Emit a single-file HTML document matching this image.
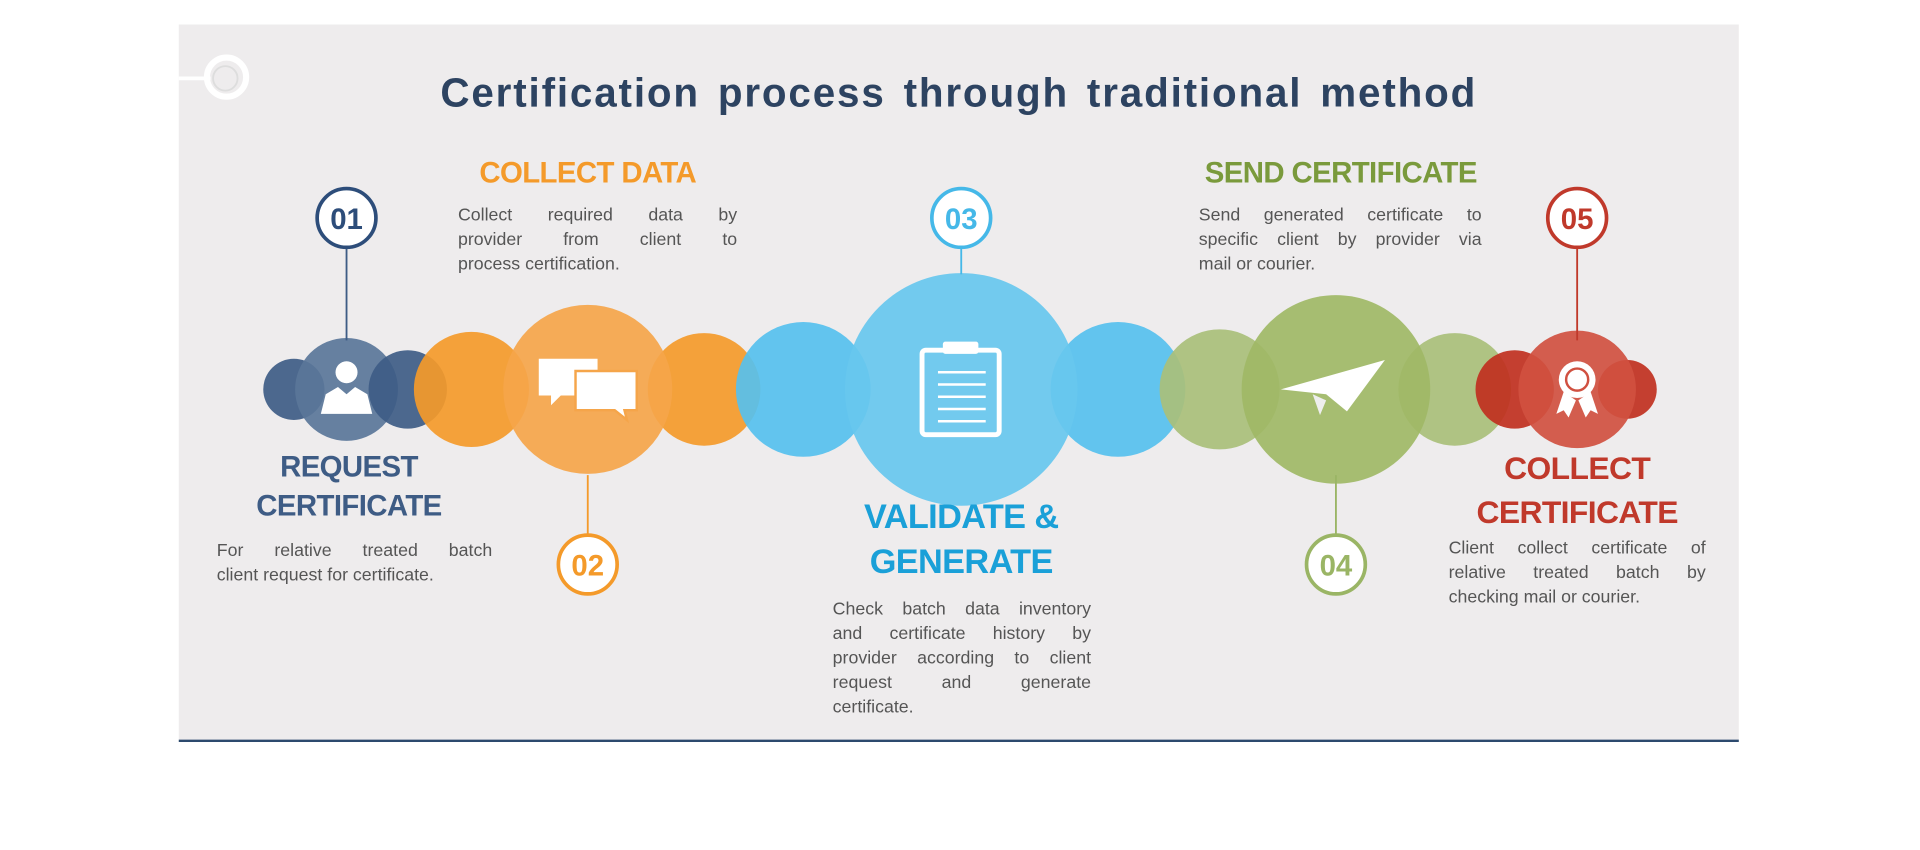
<!DOCTYPE html>
<html><head><meta charset="utf-8"><style>
html,body{margin:0;padding:0;background:#fff;width:1920px;height:850px;overflow:hidden}
#w{position:absolute;left:0;top:0;width:1568px;height:694px;transform:scale(1.2245);transform-origin:0 0;font-family:"Liberation Sans",sans-serif}
.t{position:absolute;font-weight:bold;white-space:nowrap;text-align:center;letter-spacing:-0.5px}
.d{position:absolute;font-size:14.5px;line-height:20px;color:#555}
.d div{text-align:justify;text-align-last:justify;white-space:nowrap}
.d div.l{text-align-last:left}
</style></head><body><div id="w">
<svg width="1568" height="694" style="position:absolute;left:0;top:0">
<rect x="146" y="20" width="1274" height="586" fill="#eeeced"/>
<line x1="146" y1="605" x2="1420" y2="605" stroke="#2c4a6e" stroke-width="2"/>
<line x1="146" y1="64" x2="172" y2="64" stroke="#fff" stroke-width="3"/>
<circle cx="185" cy="63" r="16" fill="none" stroke="#fff" stroke-width="5"/>
<circle cx="184" cy="64" r="10" fill="none" stroke="#ddd" stroke-width="1.5"/>
<g fill-opacity="0.92">
<circle cx="240" cy="318" r="25" fill="#3e5c85"/>
<circle cx="283" cy="318" r="42" fill="#5a7699"/>
<circle cx="333" cy="318" r="32" fill="#3e5c85"/>
<circle cx="385" cy="318" r="47" fill="#f49a2a"/>
<circle cx="575" cy="318" r="46" fill="#f49a2a"/>
<circle cx="480" cy="318" r="69" fill="#f5a54a"/>
<circle cx="656" cy="318" r="55" fill="#56c0ee"/>
<circle cx="913" cy="318" r="55" fill="#56c0ee"/>
<circle cx="785" cy="318" r="95" fill="#67c7ee"/>
<circle cx="996" cy="318" r="49" fill="#a9bf7a"/>
<circle cx="1188" cy="318" r="46" fill="#a9bf7a"/>
<circle cx="1091" cy="318" r="77" fill="#a0b866"/>
<circle cx="1237" cy="318" r="32" fill="#c0301f"/>
<circle cx="1329" cy="318" r="24" fill="#c0301f"/>
<circle cx="1288" cy="318" r="48" fill="#d05040"/>
</g>
<g fill="none" stroke-width="3">
<line x1="283" y1="202" x2="283" y2="278" stroke="#3e5c85" stroke-width="1.5"/>
<circle cx="283" cy="178" r="24" stroke="#2d4d7a" fill="#fff"/>
<line x1="480" y1="388" x2="480" y2="437" stroke="#f49a2a" stroke-width="1.5"/>
<circle cx="480" cy="461" r="24" stroke="#f49a2a" fill="#fff"/>
<line x1="785" y1="202" x2="785" y2="224" stroke="#45b8e8" stroke-width="1.5"/>
<circle cx="785" cy="178" r="24" stroke="#45b8e8" fill="#fff"/>
<line x1="1091" y1="388" x2="1091" y2="437" stroke="#9ab565" stroke-width="1.5"/>
<circle cx="1091" cy="461" r="24" stroke="#9ab565" fill="#fff"/>
<line x1="1288" y1="202" x2="1288" y2="278" stroke="#c0392b" stroke-width="1.5"/>
<circle cx="1288" cy="178" r="24" stroke="#c0392b" fill="#fff"/>
</g>
<g font-family="Liberation Sans,sans-serif" font-weight="bold" font-size="24" text-anchor="middle">
<text x="283" y="187" fill="#2d4d7a">01</text>
<text x="480" y="470" fill="#f49a2a">02</text>
<text x="785" y="187" fill="#45b8e8">03</text>
<text x="1091" y="470" fill="#9ab565">04</text>
<text x="1288" y="187" fill="#c0392b">05</text>
</g>
<text x="783" y="87" text-anchor="middle" font-family="Liberation Sans,sans-serif" font-weight="bold" font-size="33" letter-spacing="1.5" word-spacing="4" fill="#2d4361">Certification process through traditional method</text>
<g fill="#fff">
<circle cx="283" cy="304" r="9"/>
<path d="M262 338 L266 322 L276 316 L283 322 L290 316 L300 322 L304 338 Z"/>
<path d="M440 293 h48 v30 h-30 l-8 8 v-8 h-10 z"/>
<path d="M470 303 h50 v32 h-10 l2 8 -10 -8 h-32 z" stroke="#f5a54a" stroke-width="2"/>
<rect x="753" y="286" width="63" height="69" rx="3" fill="none" stroke="#fff" stroke-width="4"/>
<rect x="770" y="279" width="29" height="10" rx="2"/>
<g stroke="#fff" stroke-width="2"><line x1="766" y1="304" x2="805" y2="304"/><line x1="766" y1="314" x2="805" y2="314"/><line x1="766" y1="324" x2="805" y2="324"/><line x1="766" y1="334" x2="805" y2="334"/><line x1="766" y1="344" x2="805" y2="344"/></g>
<path d="M1046 318 L1131 294 L1100 336 L1083 322 Z"/>
<path d="M1072 322 L1078 339 L1083 327 Z" fill="#eee"/>
<path d="M1277 320 l-6 18 6-3 4 6 6-14z M1299 320 l6 18 -6-3 -4 6 -6-14z"/>
<circle cx="1288" cy="310" r="15"/>
<circle cx="1288" cy="310" r="9" fill="none" stroke="#d05040" stroke-width="2"/>
</g>
</svg>
<div class="t" style="left:346px;top:128px;width:268px;font-size:24px;color:#f49a2a">COLLECT DATA</div>
<div class="d" style="left:374px;top:166px;width:228px"><div>Collect required data by</div><div>provider from client to</div><div class="l">process certification.</div></div>
<div class="t" style="left:185px;top:366px;width:200px;font-size:24px;line-height:32px;color:#3e5c85">REQUEST<br>CERTIFICATE</div>
<div class="d" style="left:177px;top:440px;width:225px"><div>For relative treated batch</div><div class="l">client request for certificate.</div></div>
<div class="t" style="left:665px;top:403px;width:240px;font-size:28px;line-height:37px;color:#1aa0d8">VALIDATE &amp;<br>GENERATE</div>
<div class="d" style="left:680px;top:488px;width:211px"><div>Check batch data inventory</div><div>and certificate history by</div><div>provider according to client</div><div>request and generate</div><div class="l">certificate.</div></div>
<div class="t" style="left:945px;top:128px;width:300px;font-size:24px;color:#7a9a3c">SEND CERTIFICATE</div>
<div class="d" style="left:979px;top:166px;width:231px"><div>Send generated certificate to</div><div>specific client by provider via</div><div class="l">mail or courier.</div></div>
<div class="t" style="left:1178px;top:364px;width:220px;font-size:26px;line-height:36px;color:#c0392b">COLLECT<br>CERTIFICATE</div>
<div class="d" style="left:1183px;top:438px;width:210px"><div>Client collect certificate of</div><div>relative treated batch by</div><div class="l">checking mail or courier.</div></div>
</div></body></html>
